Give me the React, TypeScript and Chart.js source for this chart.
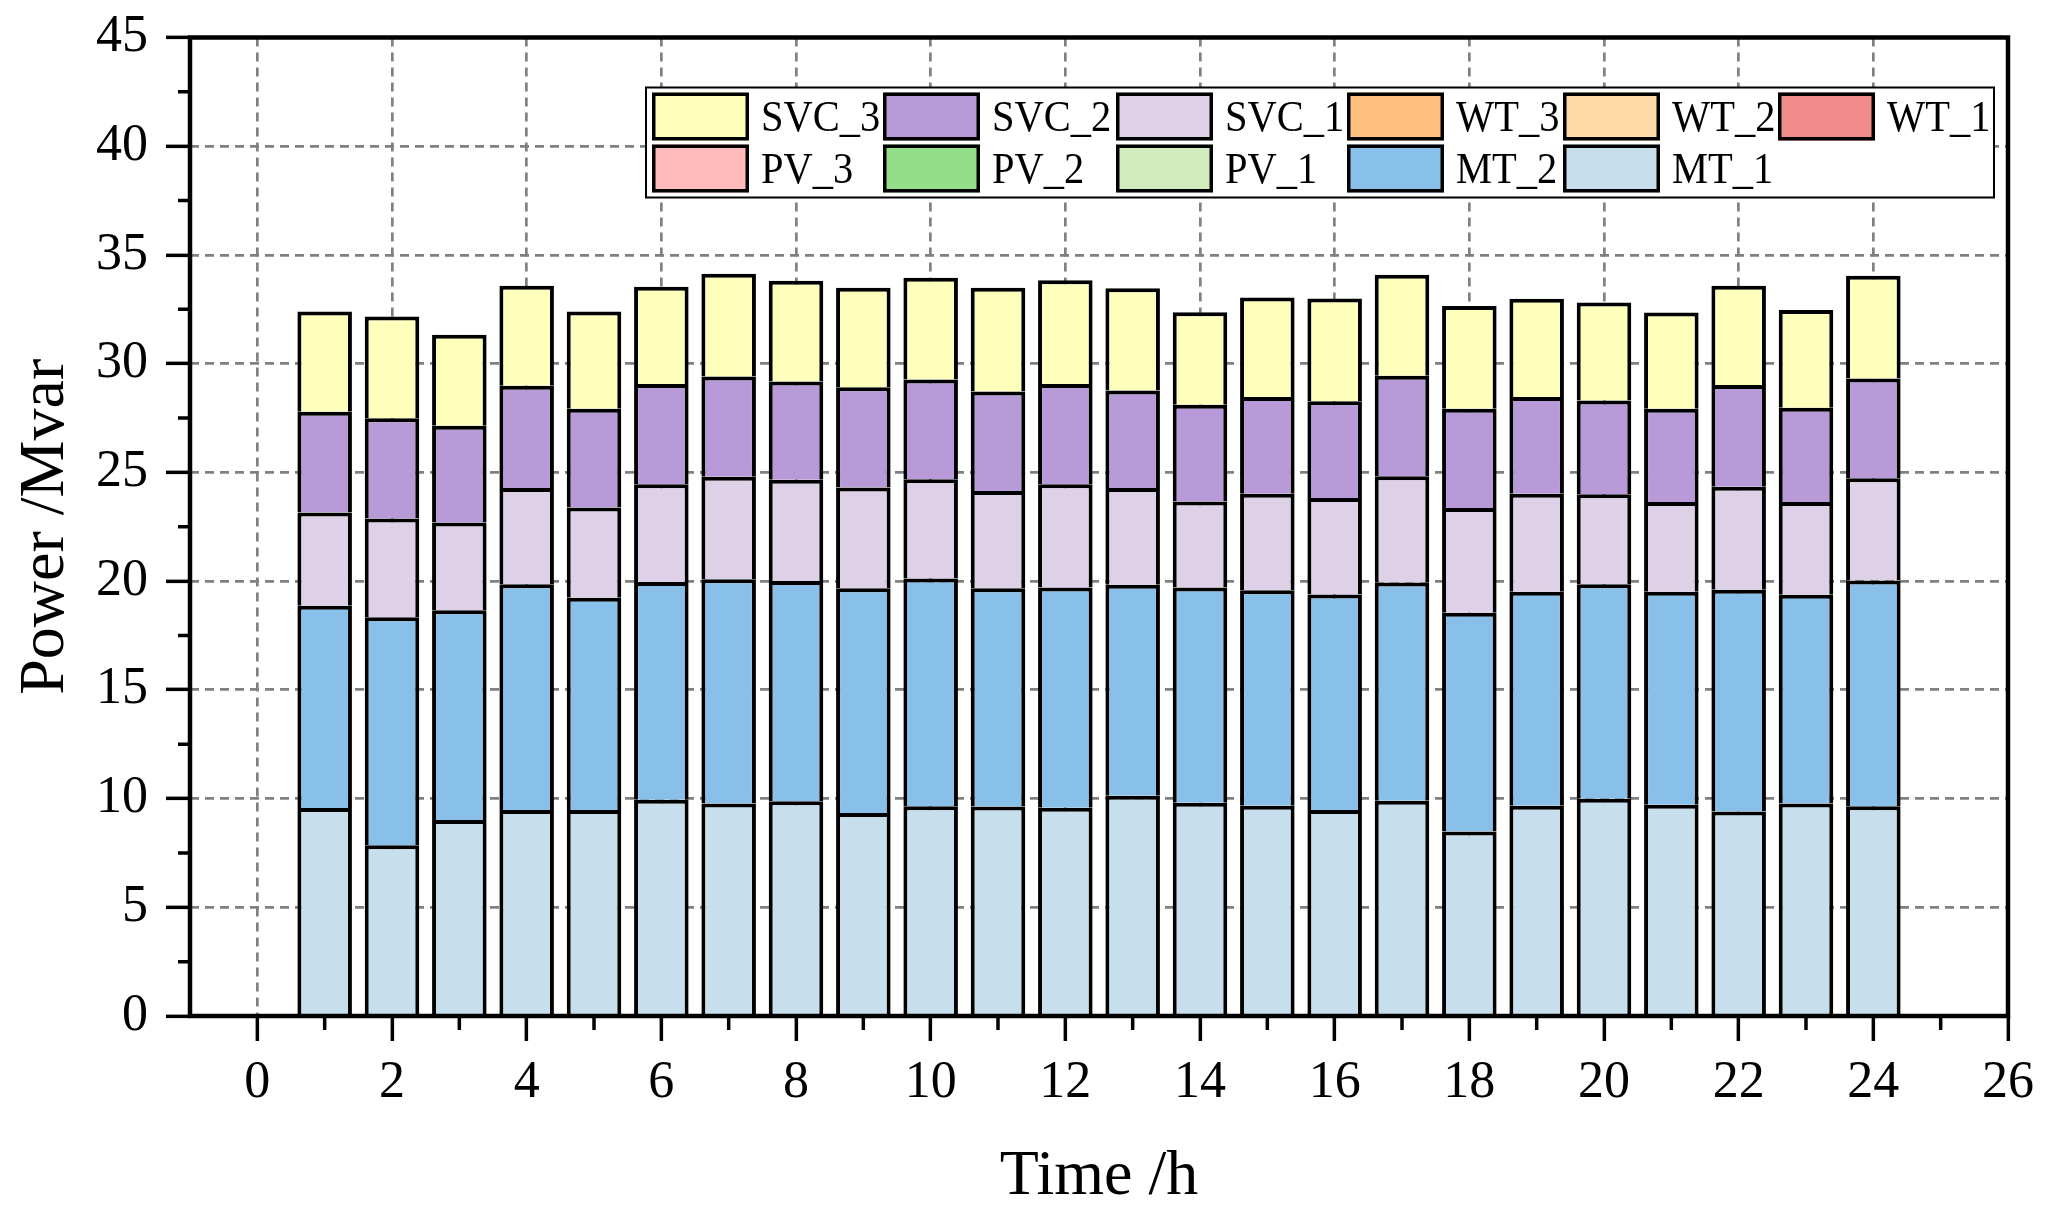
import React, { useEffect, useRef } from "react";
import { Chart, registerables } from "chart.js";

Chart.register(...registerables);

const FONT = "'Liberation Serif', 'Times New Roman', Times, serif";

// hours on the x axis
const hours = [1, 2, 3, 4, 5, 6, 7, 8, 9, 10, 11, 12, 13, 14, 15, 16, 17, 18, 19, 20, 21, 22, 23, 24];

// reactive power per unit (Mvar)
const mt1 = [9.56, 7.85, 9.01, 9.47, 9.47, 9.95, 9.77, 9.88, 9.33, 9.65, 9.63, 9.58, 10.13, 9.81, 9.67, 9.47, 9.9, 8.49, 9.67, 9.99, 9.72, 9.4, 9.77, 9.65];
const mt2 = [9.31, 10.49, 9.65, 10.38, 9.76, 10.01, 10.31, 10.13, 10.34, 10.47, 10.04, 10.13, 9.7, 9.9, 9.91, 9.92, 10.04, 10.06, 9.84, 9.86, 9.79, 10.2, 9.6, 10.38];
const pv1 = [0, 0, 0, 0, 0, 0, 0, 0, 0, 0, 0, 0, 0, 0, 0, 0, 0, 0, 0, 0, 0, 0, 0, 0];
const pv2 = [0, 0, 0, 0, 0, 0, 0, 0, 0, 0, 0, 0, 0, 0, 0, 0, 0, 0, 0, 0, 0, 0, 0, 0];
const pv3 = [0, 0, 0, 0, 0, 0, 0, 0, 0, 0, 0, 0, 0, 0, 0, 0, 0, 0, 0, 0, 0, 0, 0, 0];
const wt1 = [0, 0, 0, 0, 0, 0, 0, 0, 0, 0, 0, 0, 0, 0, 0, 0, 0, 0, 0, 0, 0, 0, 0, 0];
const wt2 = [0, 0, 0, 0, 0, 0, 0, 0, 0, 0, 0, 0, 0, 0, 0, 0, 0, 0, 0, 0, 0, 0, 0, 0];
const wt3 = [0, 0, 0, 0, 0, 0, 0, 0, 0, 0, 0, 0, 0, 0, 0, 0, 0, 0, 0, 0, 0, 0, 0, 0];
const svc1 = [4.29, 4.54, 4.04, 4.43, 4.16, 4.5, 4.72, 4.65, 4.63, 4.57, 4.47, 4.75, 4.45, 3.95, 4.44, 4.43, 4.88, 4.81, 4.51, 4.15, 4.13, 4.74, 4.27, 4.7];
const svc2 = [4.63, 4.61, 4.45, 4.7, 4.54, 4.61, 4.61, 4.52, 4.61, 4.58, 4.58, 4.61, 4.49, 4.45, 4.45, 4.45, 4.63, 4.57, 4.45, 4.31, 4.29, 4.68, 4.33, 4.59];
const svc3 = [4.61, 4.68, 4.18, 4.6, 4.47, 4.47, 4.72, 4.63, 4.58, 4.68, 4.77, 4.77, 4.7, 4.26, 4.57, 4.73, 4.64, 4.72, 4.52, 4.5, 4.42, 4.56, 4.5, 4.72];

// stacking order, bottom to top
const seriesNames = ["MT_1", "MT_2", "PV_1", "PV_2", "PV_3", "WT_1", "WT_2", "WT_3", "SVC_1", "SVC_2", "SVC_3"];
const seriesValues = [mt1, mt2, pv1, pv2, pv3, wt1, wt2, wt3, svc1, svc2, svc3];

const xTicks = [0, 2, 4, 6, 8, 10, 12, 14, 16, 18, 20, 22, 24, 26];
const xMinorTicks = [1, 3, 5, 7, 9, 11, 13, 15, 17, 19, 21, 23, 25];
const yTicks = [0, 5, 10, 15, 20, 25, 30, 35, 40, 45];
const yMinorTicks = [2.5, 7.5, 12.5, 17.5, 22.5, 27.5, 32.5, 37.5, 42.5];

const COLORS: Record<string, string> = {
  MT_1: "#c7deec",
  MT_2: "#89c0e9",
  PV_1: "#d2ebbd",
  PV_2: "#94de8a",
  PV_3: "#ffbbbb",
  WT_1: "#f08c8c",
  WT_2: "#ffdaa8",
  WT_3: "#ffc080",
  SVC_1: "#ded0e6",
  SVC_2: "#b79ad7",
  SVC_3: "#ffffbc",
};

// frame, minor ticks
const framePlugin = {
  id: "frameAndMinorTicks",
  afterDatasetsDraw(chart: any) {
    const { ctx, chartArea: a, scales } = chart;
    ctx.save();
    ctx.strokeStyle = "#000";
    ctx.lineWidth = 3.5;
    ctx.beginPath();
    xMinorTicks.forEach((v) => {
      const px = scales.x.getPixelForValue(v);
      ctx.moveTo(px, a.bottom);
      ctx.lineTo(px, a.bottom + 14);
    });
    yMinorTicks.forEach((v) => {
      const py = scales.y.getPixelForValue(v);
      ctx.moveTo(a.left, py);
      ctx.lineTo(a.left - 12, py);
    });
    ctx.stroke();
    ctx.lineWidth = 4.5;
    ctx.strokeRect(a.left, a.top, a.right - a.left, a.bottom - a.top);
    ctx.restore();
  },
};

// boxed legend, 6 columns
const legendPlugin = {
  id: "boxLegend",
  afterDraw(chart: any) {
    const { ctx, chartArea: a } = chart;
    const w = 1348;
    const h = 110;
    const left = a.right - 14 - w;
    const top = a.top + 50;
    const colX = [6, 237, 470, 701, 917, 1132];
    const rowY = [5, 57];
    const sw = 97;
    const sh = 48;
    ctx.save();
    ctx.fillStyle = "#fff";
    ctx.fillRect(left, top, w, h);
    ctx.lineWidth = 2;
    ctx.strokeStyle = "#000";
    ctx.strokeRect(left, top, w, h);
    const items = chart.data.datasets.slice().reverse();
    items.forEach((ds: any, i: number) => {
      const r = Math.floor(i / 6);
      const c = i % 6;
      const x = left + colX[c];
      const y = top + rowY[r];
      ctx.fillStyle = ds.backgroundColor;
      ctx.fillRect(x, y, sw, sh);
      ctx.lineWidth = 3.5;
      ctx.strokeStyle = "#000";
      ctx.strokeRect(x + 1.75, y + 1.75, sw - 3.5, sh - 3.5);
      ctx.save();
      ctx.translate(x + sw + 12, y + 38);
      ctx.scale(0.92, 1);
      ctx.fillStyle = "#000";
      ctx.font = `44px ${FONT}`;
      ctx.textAlign = "left";
      ctx.textBaseline = "alphabetic";
      ctx.fillText(ds.label, 0, 0);
      ctx.restore();
    });
    ctx.restore();
  },
};

export default function App() {
  const canvasRef = useRef<HTMLCanvasElement | null>(null);
  const chartRef = useRef<Chart | null>(null);

  useEffect(() => {
    if (!canvasRef.current) return;
    chartRef.current?.destroy();

    const datasets = seriesNames.map((name, k) => ({
      label: name,
      data: hours.map((h, i) => ({ x: h, y: seriesValues[k][i] })),
      backgroundColor: COLORS[name],
      borderColor: "#000",
      borderWidth: 4,
      borderSkipped: "start" as const,
      barPercentage: 0.81,
      categoryPercentage: 1,
    }));

    chartRef.current = new Chart(canvasRef.current, {
      type: "bar",
      data: { datasets },
      options: {
        responsive: true,
        maintainAspectRatio: false,
        animation: false,
        layout: { padding: { top: 10, right: 46, bottom: 0, left: 0 } },
        plugins: {
          legend: { display: false },
          tooltip: { enabled: false },
        },
        scales: {
          x: {
            type: "linear",
            stacked: true,
            min: -1,
            max: 26,
            offset: false,
            afterBuildTicks: (s: any) => {
              s.ticks = xTicks.map((v) => ({ value: v }));
            },
            afterFit: (s: any) => {
              s.height = 204;
            },
            ticks: {
              color: "#000",
              font: { family: FONT, size: 52 },
              padding: 11,
              maxRotation: 0,
              autoSkip: false,
            },
            grid: {
              offset: false,
              color: "#808080",
              lineWidth: 2.7,
              borderDash: [9, 6],
              tickColor: "#000",
              tickWidth: 3.5,
              tickLength: 25,
            } as any,
            border: { display: false, dash: [9, 6] },
            title: {
              display: true,
              text: "Time /h",
              color: "#000",
              font: { family: FONT, size: 64, lineHeight: 1.2 },
              padding: { top: 0, bottom: 4 },
            },
          },
          y: {
            stacked: true,
            min: 0,
            max: 45,
            afterBuildTicks: (s: any) => {
              s.ticks = yTicks.map((v) => ({ value: v }));
            },
            afterFit: (s: any) => {
              s.width = 190;
            },
            ticks: {
              color: "#000",
              font: { family: FONT, size: 52, lineHeight: 0.75 },
              padding: 18,
            },
            grid: {
              color: "#808080",
              lineWidth: 2.7,
              borderDash: [9, 6],
              tickColor: "#000",
              tickWidth: 3.5,
              tickLength: 24,
            } as any,
            border: { display: false, dash: [9, 6] },
            title: {
              display: true,
              text: "Power /Mvar",
              color: "#000",
              font: { family: FONT, size: 64, lineHeight: 1.2 },
              padding: { top: 8, bottom: 0 },
            },
          },
        },
      },
      plugins: [framePlugin, legendPlugin],
    });

    return () => {
      chartRef.current?.destroy();
      chartRef.current = null;
    };
  }, []);

  return (
    <div
      style={{
        position: "fixed",
        left: 0,
        top: 0,
        width: 2054,
        height: 1220,
        background: "#fff",
      }}
    >
      <canvas ref={canvasRef} />
    </div>
  );
}
